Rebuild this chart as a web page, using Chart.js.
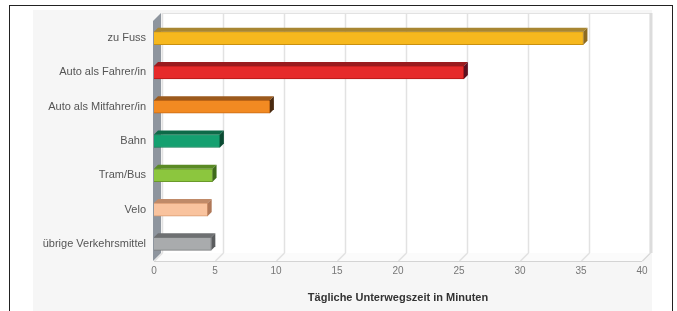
<!DOCTYPE html>
<html>
<head>
<meta charset="utf-8">
<script src="https://cdn.jsdelivr.net/npm/chart.js@4/dist/chart.umd.min.js"></script>
<style>
  html, body { margin: 0; padding: 0; background: #fff; }
  #wrap { position: relative; width: 677px; height: 311px; overflow: hidden; }
  #frame { position: absolute; left: 9px; top: 5px; width: 662px; height: 330px; border: 1px solid #222; border-bottom: none; }
  #panel { position: absolute; left: 33px; top: 10px; width: 619px; height: 301px; background: #f6f6f6; }
  #chart { position: absolute; left: 0; top: 0; }
</style>
</head>
<body>
<div id="wrap">
  <div id="frame"></div>
  <div id="panel"></div>
  <canvas id="chart" width="677" height="311"></canvas>
</div>
<script>
// Tägliche Unterwegszeit nach Verkehrsmittel
const categories = ['zu Fuss', 'Auto als Fahrer/in', 'Auto als Mitfahrer/in', 'Bahn', 'Tram/Bus', 'Velo', 'übrige Verkehrsmittel'];
const minutes = [35.2, 25.4, 9.5, 5.4, 4.8, 4.4, 4.7];
const xTicks = [0, 5, 10, 15, 20, 25, 30, 35, 40];
const axisTitle = 'Tägliche Unterwegszeit in Minuten';

// front / top / side / edge colours per bar
const frontColors = ['#f6b81e', '#e62a2a', '#f28a22', '#14a070', '#8cc63e', '#f9c39e', '#a9abad'];
const topColors   = ['#a88632', '#9a1b1e', '#9c5a1c', '#0d6a48', '#5a8a24', '#c08a68', '#6e7072'];
const sideColors  = ['#8d6a1f', '#5c1020', '#4a2a10', '#0a4a32', '#3e6a1a', '#b07858', '#5a5c5e'];
const edgeColors  = ['#c89010', '#b01818', '#c86a14', '#0c7a52', '#6a9a2a', '#d89a70', '#7a7c7e'];

const WALL = 8;   // depth of the back wall
const BAR_D = 4;  // depth of each bar

function poly(ctx, pts, fill) {
  ctx.beginPath();
  ctx.moveTo(pts[0][0], pts[0][1]);
  for (let i = 1; i < pts.length; i++) ctx.lineTo(pts[i][0], pts[i][1]);
  ctx.closePath();
  ctx.fillStyle = fill;
  ctx.fill();
}

// draws back wall, floor, side wall and grid behind the bars
const backdrop = {
  id: 'backdrop',
  beforeDatasetsDraw(chart) {
    const { ctx, chartArea: { left, right, top, bottom }, scales: { x } } = chart;
    const D = WALL;
    ctx.save();
    // back wall
    ctx.fillStyle = '#ffffff';
    ctx.fillRect(left + D, top - D, right - left, bottom - top);
    // floor
    poly(ctx, [[left, bottom], [right, bottom], [right + D, bottom - D], [left + D, bottom - D]], '#fbfbfb');
    ctx.lineWidth = 1.5;
    ctx.strokeStyle = '#e2e2e2';
    xTicks.forEach(v => {
      const px = Math.round(x.getPixelForValue(v)) + 0.5;
      ctx.beginPath();
      ctx.moveTo(px + D, top - D);
      ctx.lineTo(px + D, bottom - D);
      ctx.moveTo(px, bottom);
      ctx.lineTo(px + D, bottom - D);
      ctx.stroke();
    });
    // top edge of back wall
    ctx.lineWidth = 1;
    ctx.beginPath();
    ctx.moveTo(left + D, top - D + 0.5);
    ctx.lineTo(right + D, top - D + 0.5);
    ctx.stroke();
    // right edge of back wall
    ctx.strokeStyle = '#dcdcdc';
    ctx.lineWidth = 3;
    ctx.beginPath();
    ctx.moveTo(right + D + 1, top - D);
    ctx.lineTo(right + D + 1, bottom - D);
    ctx.stroke();
    // floor edges
    ctx.lineWidth = 1;
    ctx.strokeStyle = '#d4d4d4';
    ctx.beginPath();
    ctx.moveTo(left, bottom + 0.5);
    ctx.lineTo(right, bottom + 0.5);
    ctx.lineTo(right + D, bottom - D + 0.5);
    ctx.stroke();
    // left wall
    poly(ctx, [[left - 1, top], [left + D - 1, top - D], [left + D - 1, bottom - D], [left - 1, bottom]], '#8e959e');
    ctx.restore();
  }
};

// top and side faces of each bar
const barDepth = {
  id: 'barDepth',
  afterDatasetsDraw(chart) {
    const { ctx } = chart;
    const d = BAR_D;
    ctx.save();
    chart.getDatasetMeta(0).data.forEach((bar, i) => {
      const { x, y, base, height } = bar.getProps(['x', 'y', 'base', 'height'], true);
      const t = y - height / 2;
      const b = y + height / 2;
      poly(ctx, [[base, t], [x, t], [x + d, t - d], [base + d, t - d]], topColors[i]);
      poly(ctx, [[x, t], [x + d, t - d], [x + d, b - d], [x, b]], sideColors[i]);
    });
    ctx.restore();
  }
};

new Chart(document.getElementById('chart').getContext('2d'), {
  type: 'bar',
  data: {
    labels: categories,
    datasets: [{
      data: minutes,
      backgroundColor: frontColors,
      borderColor: edgeColors,
      borderWidth: 1,
      barThickness: 13
    }]
  },
  options: {
    indexAxis: 'y',
    responsive: false,
    animation: false,
    layout: { padding: { top: 21, right: 35, bottom: 0, left: 0 } },
    plugins: {
      legend: { display: false },
      tooltip: { enabled: false }
    },
    scales: {
      x: {
        min: 0,
        max: 40,
        afterBuildTicks(scale) { scale.ticks = xTicks.map(v => ({ value: v })); },
        afterFit(scale) { scale.height = 50; },
        grid: { display: false, drawTicks: false },
        border: { display: false },
        ticks: {
          padding: 4,
          color: '#777',
          font: { family: 'Liberation Sans', size: 10 }
        },
        title: {
          display: true,
          text: axisTitle,
          color: '#333',
          padding: { top: 4, bottom: 6 },
          font: { family: 'Liberation Sans', size: 11, weight: 'bold' }
        }
      },
      y: {
        afterFit(scale) { scale.width = 154; },
        grid: { display: false, drawTicks: false },
        border: { display: false },
        ticks: {
          padding: 8,
          color: '#555',
          font: { family: 'Liberation Sans', size: 11 }
        }
      }
    }
  },
  plugins: [backdrop, barDepth]
});
</script>
</body>
</html>
